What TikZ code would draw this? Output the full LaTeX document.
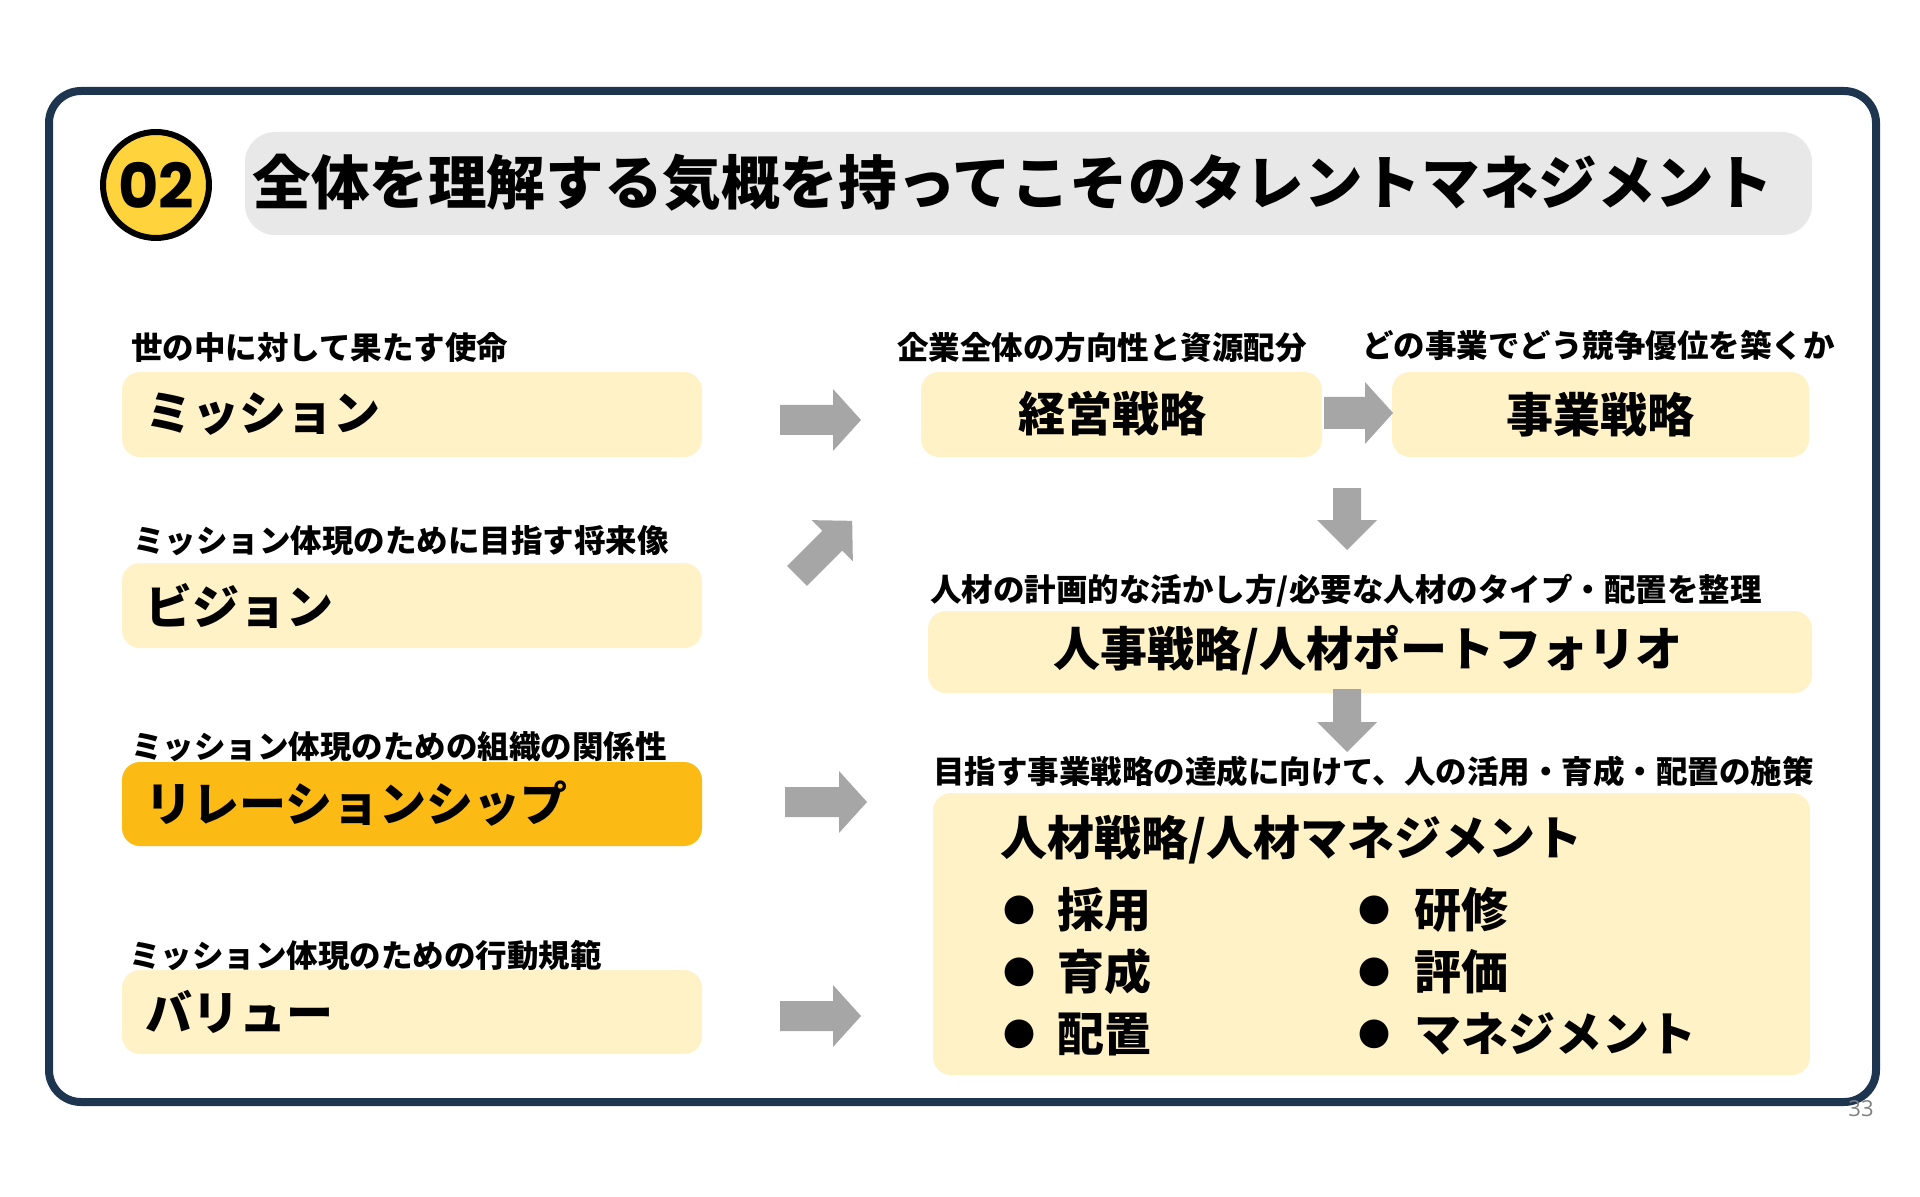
\documentclass[tikz,border=0pt]{standalone}
\usepackage{fontspec}
\newfontfamily\jp{Noto Sans CJK JP}
\newfontfamily\numfont{Poppins}
\newfontfamily\pagefont{Open Sans}
\usepackage{tikz}
\usetikzlibrary{positioning,fit}

\definecolor{framenavy}{RGB}{30,53,80}
\definecolor{titlegray}{RGB}{232,232,232}
\definecolor{boxcream}{RGB}{255,242,199}
\definecolor{boxorange}{RGB}{252,187,20}
\definecolor{arrowgray}{RGB}{166,166,166}
\definecolor{badgeyellow}{RGB}{254,211,60}

\begin{document}
\begin{tikzpicture}[x=0.5pt,y=-0.5pt,
  creambox/.style={fill=boxcream, rounded corners=9pt, inner sep=0pt},
  orangebox/.style={fill=boxorange, rounded corners=9pt, inner sep=0pt},
  labeltext/.style={anchor=west, inner sep=0pt, font=\jp\bfseries\fontsize{15.75}{18}\selectfont},
  boxtext/.style={inner sep=0pt, font=\jp\bfseries\fontsize{23.5}{26}\selectfont},
  bulletdot/.style={inner sep=0pt, font=\jp\fontsize{16}{18}\selectfont},
  pics/blockarrow/.style args={#1/#2/#3/#4}{code={
    \fill[arrowgray] (0,-#4) -- (#1-#2,-#4) -- (#1-#2,-#3) -- (#1,0)
      -- (#1-#2,#3) -- (#1-#2,#4) -- (0,#4) -- cycle;}}
]
\useasboundingbox (0,0) rectangle (1920,1197);
\fill[white] (0,0) rectangle (1920,1197);

% frame and title
\draw[framenavy, line width=4pt, rounded corners=16pt] (49,91) rectangle (1876,1102);
\node[fill=titlegray, rounded corners=15pt, inner sep=0pt, fit={(245,132) (1812,235)}] (titlebar) {};
\node[anchor=west, inner sep=0pt, font=\jp\bfseries\fontsize{29.3}{32}\selectfont] (titletext) at (252,183) {全体を理解する気概を持ってこそのタレントマネジメント};
\node[circle, draw=black, line width=3pt, fill=badgeyellow, minimum size=53pt, inner sep=0pt,
      font=\numfont\bfseries\fontsize{31}{31}\selectfont] (badge) at (156,185) {02};

% left column
\node[labeltext] (missionlbl) at (131,348) {世の中に対して果たす使命};
\node[creambox, fit={(122,372) (702,457)}] (mission) {};
\node[boxtext, anchor=west] (missiontxt) at ([xshift=11.5pt]mission.west) {ミッション};

\node[labeltext] (visionlbl) at (133,541) {ミッション体現のために目指す将来像};
\node[creambox, fit={(122,563) (702,648)}] (vision) {};
\node[boxtext, anchor=west] (visiontxt) at ([xshift=11.5pt]vision.west) {ビジョン};

\node[labeltext] (relationlbl) at (131,747) {ミッション体現のための組織の関係性};
\node[orangebox, fit={(122,762) (702,846)}] (relation) {};
\node[boxtext, anchor=west] (relationtxt) at ([xshift=11.5pt]relation.west) {リレーションシップ};

\node[labeltext] (valuelbl) at (129,956) {ミッション体現のための行動規範};
\node[creambox, fit={(122,970) (702,1054)}] (value) {};
\node[boxtext, anchor=west] (valuetxt) at ([xshift=11.5pt]value.west) {バリュー};

% right column
\node[labeltext] (keieilbl) at (897,348) {企業全体の方向性と資源配分};
\node[creambox, fit={(921,372) (1322,457)}] (keiei) {};
\node[boxtext] (keieitxt) at (1112,414) {経営戦略};

\node[labeltext] (jigyolbl) at (1362,345) {どの事業でどう競争優位を築くか};
\node[creambox, fit={(1392,372) (1809,457)}] (jigyo) {};
\node[boxtext] (jigyotxt) at (jigyo.center) {事業戦略};

\node[labeltext] (jinjilbl) at (930,591) {人材の計画的な活かし方/必要な人材のタイプ・配置を整理};
\node[creambox, fit={(928,611) (1812,693)}] (jinji) {};
\node[boxtext] (jinjitxt) at (1368,650) {人事戦略/人材ポートフォリオ};

\node[labeltext] (jinzailbl) at (933,771) {目指す事業戦略の達成に向けて、人の活用・育成・配置の施策};
\node[creambox, fit={(933,793) (1810,1075)}] (jinzai) {};
\node[boxtext, anchor=west] (jinzaitxt) at (1000,840) {人材戦略/人材マネジメント};

\node[bulletdot] (dota) at (1019,910) {●};
\node[bulletdot] (dotb) at (1019,972) {●};
\node[bulletdot] (dotc) at (1019,1034) {●};
\node[boxtext, anchor=west] (itema) at (1057,910) {採用};
\node[boxtext, anchor=west] (itemb) at (1057,972) {育成};
\node[boxtext, anchor=west] (itemc) at (1057,1034) {配置};
\node[bulletdot] (dotd) at (1374,910) {●};
\node[bulletdot] (dote) at (1374,972) {●};
\node[bulletdot] (dotf) at (1374,1034) {●};
\node[boxtext, anchor=west] (itemd) at (1414,910) {研修};
\node[boxtext, anchor=west] (iteme) at (1414,972) {評価};
\node[boxtext, anchor=west] (itemf) at (1414,1034) {マネジメント};

% arrows
\pic (arrmission) at (780,420) {blockarrow=81/28/31/15};
\pic[rotate=45] (arrvision) at (797,576) {blockarrow=78/28/29/14};
\pic (arrrelation) at (785,802) {blockarrow=82/28/31/15};
\pic (arrvalue) at (780,1016) {blockarrow=81/28/31/15};
\pic (arrkeiei) at (1324,413) {blockarrow=69/28/31/16};
\pic[rotate=-90] (arrjigyo) at (1347,488) {blockarrow=62/30/30/14};
\pic[rotate=-90] (arrjinji) at (1347,689) {blockarrow=63/30/30/14};

\node[text=gray, inner sep=0pt, font=\pagefont\fontsize{11}{11}\selectfont] (pagenum) at (1861,1109) {33};
\end{tikzpicture}
\end{document}
